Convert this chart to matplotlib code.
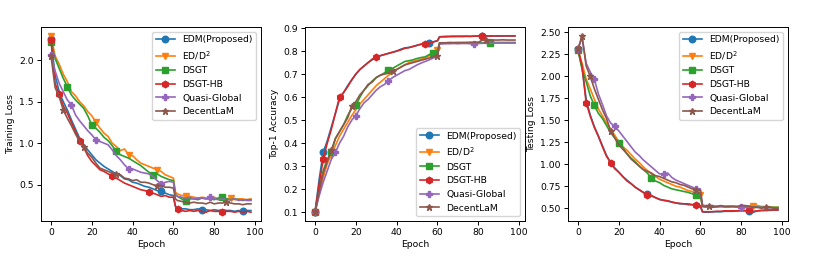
import matplotlib
matplotlib.use("Agg")
import matplotlib.pyplot as plt

# epochs sampled (the lr decay happens between 60 and 61)
epochs = list(range(0, 61, 2)) + [61] + list(range(62, 99, 2))

methods = ["EDM(Proposed)", "ED/D$^2$", "DSGT", "DSGT-HB", "Quasi-Global", "DecentLaM"]
colors = ["tab:blue", "tab:orange", "tab:green", "tab:red", "tab:purple", "tab:brown"]
markers = ["o", "v", "s", "h", "P", "*"]

# ---- training loss ----
train_edm = [2.25, 1.82, 1.62, 1.50, 1.40, 1.28, 1.17, 1.06, 0.98, 0.92, 0.86, 0.80, 0.76, 0.72, 0.69, 0.66,
             0.63, 0.61, 0.57, 0.56, 0.53, 0.52, 0.50, 0.48, 0.47, 0.45, 0.43, 0.42, 0.40, 0.38, 0.37,
             0.24, 0.22, 0.21, 0.21, 0.20, 0.20, 0.21, 0.20, 0.20, 0.19, 0.20, 0.19, 0.20, 0.19, 0.19,
             0.18, 0.19, 0.18, 0.19, 0.19]
train_edd2 = [2.29, 2.05, 1.95, 1.83, 1.74, 1.62, 1.57, 1.50, 1.45, 1.38, 1.33, 1.25, 1.18, 1.12, 1.08, 1.00,
              0.96, 0.91, 0.93, 0.86, 0.85, 0.80, 0.76, 0.74, 0.72, 0.70, 0.68, 0.66, 0.62, 0.60, 0.58,
              0.41, 0.39, 0.37, 0.37, 0.36, 0.35, 0.34, 0.35, 0.34, 0.33, 0.35, 0.33, 0.34, 0.33, 0.34,
              0.32, 0.33, 0.33, 0.32, 0.33]
train_dsgt = [2.22, 2.02, 1.90, 1.78, 1.68, 1.58, 1.52, 1.47, 1.42, 1.33, 1.22, 1.18, 1.13, 1.07, 1.03, 0.97,
              0.90, 0.86, 0.84, 0.82, 0.79, 0.76, 0.73, 0.69, 0.65, 0.62, 0.63, 0.60, 0.58, 0.56, 0.55,
              0.38, 0.36, 0.33, 0.31, 0.33, 0.33, 0.32, 0.34, 0.33, 0.33, 0.32, 0.34, 0.35, 0.33, 0.32,
              0.33, 0.32, 0.31, 0.32, 0.32]
train_hb = [2.24, 1.72, 1.59, 1.45, 1.36, 1.25, 1.14, 1.03, 0.95, 0.85, 0.78, 0.73, 0.68, 0.66, 0.63, 0.61,
            0.58, 0.55, 0.52, 0.50, 0.48, 0.46, 0.44, 0.43, 0.41, 0.40, 0.38, 0.36, 0.37, 0.35, 0.35,
            0.24, 0.21, 0.19, 0.18, 0.19, 0.18, 0.19, 0.18, 0.17, 0.19, 0.18, 0.18, 0.17, 0.18, 0.18,
            0.17, 0.18, 0.17, 0.18, 0.17]
train_qg = [2.06, 1.87, 1.72, 1.62, 1.52, 1.46, 1.34, 1.27, 1.21, 1.15, 1.10, 1.04, 1.02, 1.00, 0.98, 0.92,
            0.85, 0.80, 0.74, 0.69, 0.69, 0.67, 0.65, 0.64, 0.63, 0.60, 0.55, 0.51, 0.53, 0.54, 0.53,
            0.38, 0.36, 0.35, 0.34, 0.35, 0.33, 0.34, 0.34, 0.33, 0.35, 0.33, 0.32, 0.33, 0.32, 0.32,
            0.33, 0.31, 0.32, 0.31, 0.31]
train_dlam = [2.05, 1.67, 1.56, 1.40, 1.30, 1.21, 1.11, 1.02, 0.95, 0.88, 0.83, 0.76, 0.70, 0.68, 0.66, 0.64,
              0.63, 0.62, 0.58, 0.57, 0.55, 0.56, 0.53, 0.53, 0.52, 0.50, 0.49, 0.49, 0.47, 0.47, 0.46,
              0.33, 0.31, 0.30, 0.29, 0.28, 0.29, 0.28, 0.28, 0.27, 0.29, 0.27, 0.28, 0.28, 0.29, 0.28,
              0.27, 0.27, 0.26, 0.27, 0.27]

# ---- top-1 accuracy ----
acc_edm = [0.10, 0.24, 0.36, 0.41, 0.47, 0.53, 0.59, 0.62, 0.65, 0.675, 0.70, 0.72, 0.735, 0.75, 0.762, 0.772,
           0.78, 0.785, 0.79, 0.795, 0.80, 0.808, 0.814, 0.816, 0.82, 0.825, 0.83, 0.832, 0.836, 0.84, 0.845,
           0.862, 0.863, 0.864, 0.864, 0.865, 0.864, 0.865, 0.865, 0.864, 0.865, 0.866, 0.866, 0.865, 0.866,
           0.866, 0.865, 0.866, 0.866, 0.866, 0.866]
acc_edd2 = [0.10, 0.18, 0.25, 0.31, 0.35, 0.39, 0.43, 0.46, 0.49, 0.52, 0.545, 0.57, 0.59, 0.61, 0.63, 0.65,
            0.665, 0.68, 0.695, 0.705, 0.72, 0.73, 0.74, 0.75, 0.755, 0.76, 0.765, 0.77, 0.78, 0.79, 0.805,
            0.835, 0.836, 0.836, 0.837, 0.836, 0.837, 0.837, 0.836, 0.837, 0.838, 0.837, 0.837, 0.838, 0.837,
            0.838, 0.838, 0.837, 0.838, 0.838, 0.838]
acc_dsgt = [0.10, 0.20, 0.28, 0.33, 0.36, 0.42, 0.45, 0.48, 0.52, 0.55, 0.565, 0.60, 0.63, 0.65, 0.67, 0.685,
            0.695, 0.705, 0.72, 0.725, 0.735, 0.745, 0.755, 0.758, 0.762, 0.768, 0.772, 0.775, 0.785, 0.79, 0.795,
            0.835, 0.836, 0.836, 0.836, 0.837, 0.836, 0.836, 0.837, 0.836, 0.836, 0.837, 0.836, 0.834, 0.833,
            0.836, 0.836, 0.837, 0.836, 0.836, 0.836]
acc_hb = [0.10, 0.22, 0.33, 0.40, 0.46, 0.53, 0.60, 0.62, 0.645, 0.675, 0.70, 0.72, 0.735, 0.75, 0.765, 0.775,
          0.78, 0.785, 0.79, 0.795, 0.80, 0.805, 0.812, 0.815, 0.82, 0.825, 0.83, 0.83, 0.834, 0.84, 0.845,
          0.861, 0.862, 0.862, 0.863, 0.863, 0.864, 0.863, 0.864, 0.864, 0.865, 0.865, 0.866, 0.866, 0.865,
          0.866, 0.866, 0.866, 0.866, 0.866, 0.866]
acc_qg = [0.10, 0.17, 0.23, 0.28, 0.33, 0.36, 0.40, 0.43, 0.47, 0.50, 0.52, 0.55, 0.575, 0.59, 0.61, 0.63,
          0.645, 0.655, 0.67, 0.685, 0.695, 0.705, 0.715, 0.72, 0.73, 0.74, 0.748, 0.755, 0.762, 0.77, 0.778,
          0.830, 0.831, 0.832, 0.832, 0.833, 0.832, 0.833, 0.833, 0.832, 0.831, 0.833, 0.834, 0.834, 0.834,
          0.835, 0.835, 0.835, 0.835, 0.835, 0.835]
acc_dlam = [0.10, 0.19, 0.27, 0.32, 0.37, 0.42, 0.45, 0.48, 0.51, 0.56, 0.58, 0.61, 0.63, 0.655, 0.665, 0.685,
            0.695, 0.70, 0.705, 0.715, 0.72, 0.73, 0.74, 0.745, 0.75, 0.755, 0.76, 0.765, 0.77, 0.775, 0.78,
            0.835, 0.836, 0.836, 0.837, 0.836, 0.837, 0.837, 0.837, 0.838, 0.838, 0.838, 0.848, 0.848, 0.849,
            0.848, 0.848, 0.849, 0.848, 0.848, 0.848]

# ---- testing loss ----
test_edm = [2.31, 2.10, 1.74, 1.56, 1.43, 1.32, 1.21, 1.10, 1.02, 0.96, 0.91, 0.86, 0.82, 0.78, 0.74, 0.71,
            0.68, 0.66, 0.64, 0.62, 0.60, 0.59, 0.58, 0.57, 0.56, 0.55, 0.55, 0.54, 0.54, 0.53, 0.52,
            0.46, 0.455, 0.455, 0.46, 0.46, 0.46, 0.465, 0.465, 0.465, 0.47, 0.47, 0.47, 0.47, 0.455, 0.47,
            0.475, 0.475, 0.475, 0.48, 0.48]
test_edd2 = [2.30, 2.15, 1.97, 1.86, 1.74, 1.63, 1.55, 1.47, 1.40, 1.33, 1.26, 1.20, 1.16, 1.11, 1.06, 1.02,
             0.97, 0.93, 0.89, 0.86, 0.83, 0.81, 0.79, 0.77, 0.75, 0.74, 0.72, 0.70, 0.69, 0.67, 0.645,
             0.53, 0.52, 0.52, 0.52, 0.52, 0.52, 0.52, 0.525, 0.52, 0.52, 0.525, 0.525, 0.525, 0.53, 0.53,
             0.52, 0.515, 0.515, 0.51, 0.51]
test_dsgt = [2.30, 2.08, 1.94, 1.78, 1.67, 1.58, 1.52, 1.44, 1.36, 1.30, 1.24, 1.19, 1.12, 1.07, 1.03, 0.98,
             0.94, 0.90, 0.84, 0.81, 0.79, 0.76, 0.74, 0.72, 0.71, 0.70, 0.69, 0.68, 0.665, 0.645, 0.64,
             0.52, 0.515, 0.515, 0.52, 0.515, 0.52, 0.515, 0.515, 0.52, 0.515, 0.515, 0.52, 0.52, 0.515, 0.515,
             0.51, 0.515, 0.51, 0.51, 0.51]
test_hb = [2.31, 2.12, 1.70, 1.55, 1.42, 1.32, 1.20, 1.09, 1.02, 0.95, 0.91, 0.86, 0.81, 0.78, 0.74, 0.71,
           0.68, 0.65, 0.645, 0.62, 0.60, 0.59, 0.585, 0.57, 0.56, 0.555, 0.55, 0.55, 0.54, 0.535, 0.53,
           0.46, 0.46, 0.46, 0.46, 0.465, 0.465, 0.47, 0.47, 0.47, 0.47, 0.475, 0.475, 0.475, 0.465, 0.47,
           0.475, 0.475, 0.48, 0.48, 0.48]
test_qg = [2.31, 2.44, 2.15, 2.05, 1.97, 1.80, 1.68, 1.55, 1.47, 1.43, 1.38, 1.32, 1.26, 1.20, 1.14, 1.10,
           1.05, 1.01, 0.97, 0.93, 0.89, 0.89, 0.90, 0.85, 0.82, 0.80, 0.78, 0.76, 0.74, 0.72, 0.72,
           0.54, 0.53, 0.53, 0.53, 0.52, 0.52, 0.52, 0.52, 0.52, 0.515, 0.515, 0.51, 0.51, 0.51, 0.51,
           0.51, 0.505, 0.505, 0.505, 0.50]
test_dlam = [2.31, 2.46, 2.12, 2.00, 1.86, 1.74, 1.62, 1.52, 1.38, 1.30, 1.22, 1.17, 1.12, 1.06, 1.02, 0.98,
             0.94, 0.92, 0.90, 0.87, 0.86, 0.84, 0.82, 0.80, 0.79, 0.77, 0.76, 0.74, 0.72, 0.71, 0.70,
             0.52, 0.52, 0.52, 0.51, 0.52, 0.53, 0.52, 0.52, 0.52, 0.52, 0.53, 0.53, 0.52, 0.51, 0.51,
             0.50, 0.51, 0.51, 0.50, 0.50]

# indices (into epochs) where markers were drawn
train_marks = [[0, 27, 38, 48], [0, 11, 19, 26, 34, 45], [0, 4, 10, 16, 25, 34, 43],
               [0, 2, 7, 15, 24, 32, 43], [0, 5, 11, 19, 27, 40], [0, 3, 8, 16, 26, 44]]
acc_marks = [[0, 2, 28, 42], [0, 4, 30, 44], [0, 4, 10, 18, 29, 44],
             [0, 2, 6, 15, 27, 42], [0, 5, 10, 18, 40], [0, 4, 9, 19, 30, 43]]
test_marks = [[0, 17, 43], [0, 30, 44], [0, 4, 10, 18, 29],
              [0, 2, 8, 17, 29, 43], [0, 4, 9, 21, 29, 41], [0, 1, 3, 8, 29, 33, 47]]

panels = [
    ("Training Loss", [train_edm, train_edd2, train_dsgt, train_hb, train_qg, train_dlam], train_marks, "upper right"),
    ("Top-1 Accuracy", [acc_edm, acc_edd2, acc_dsgt, acc_hb, acc_qg, acc_dlam], acc_marks, "lower right"),
    ("Testing Loss", [test_edm, test_edd2, test_dsgt, test_hb, test_qg, test_dlam], test_marks, "upper right"),
]

plt.rcParams["font.size"] = 6.7
plt.rcParams["axes.linewidth"] = 0.7
plt.rcParams["xtick.major.width"] = 0.7
plt.rcParams["ytick.major.width"] = 0.7
plt.rcParams["xtick.major.size"] = 2.8
plt.rcParams["ytick.major.size"] = 2.8

fig = plt.figure(figsize=(8.3, 2.77), dpi=100)
lefts = [0.0494, 0.3675, 0.6843]

for (ylabel, series, marks, loc), left in zip(panels, lefts):
    ax = fig.add_axes([left, 0.2022, 0.265, 0.700])
    for name, ys, c, m, mk in zip(methods, series, colors, markers, marks):
        ax.plot(epochs, ys, color=c, marker=m, markevery=mk, markersize=4.7, linewidth=1.2, label=name)
    ax.set_xlabel("Epoch", labelpad=2)
    ax.set_ylabel(ylabel, labelpad=3)
    ax.tick_params(pad=2.5)
    ax.set_xticks([0, 20, 40, 60, 80, 100])
    ax.legend(loc=loc, fontsize=6.7)

fig.savefig("out.png", dpi=100)
